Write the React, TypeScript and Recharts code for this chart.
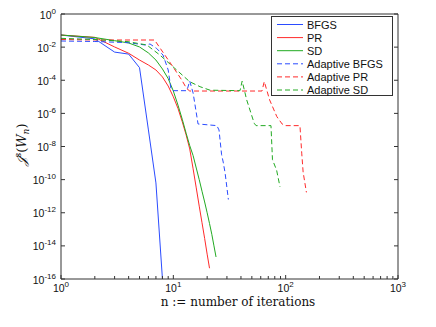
import React from 'react';
import { LineChart, Line, XAxis, YAxis } from 'recharts';

// iteration counts (n) and log10 of the objective for each method
const bfgsN = [1, 2, 3, 4, 5, 6, 7, 8];
const bfgsExp = [-1.27, -1.5, -2.3, -2.42, -3.24, -7.0, -10.2, -16];

const prN = [1, 2, 3, 4, 5, 6, 7, 8, 9, 10, 11, 12, 13, 14, 15, 16, 17, 18, 19, 20, 21];
const prExp = [-1.27, -1.41, -1.99, -2.37, -2.78, -3.08, -3.38, -3.8, -4.35, -5.0, -5.7, -6.5, -7.3, -8.15, -9.35, -10.5, -11.6, -12.6, -13.55, -14.5, -15.35];

const sdN = [1, 2, 3, 4, 5, 6, 7, 8, 9, 10, 11, 12, 13, 14, 15, 16, 17, 18, 19, 20, 21, 22, 23, 24];
const sdExp = [-1.27, -1.42, -1.61, -1.75, -1.99, -2.35, -2.78, -3.32, -3.9, -4.65, -5.5, -6.35, -7.2, -7.95, -8.55, -9.3, -10.0, -10.7, -11.35, -12.0, -12.65, -13.3, -14.0, -14.67];

const aBfgsN = [1, 2, 3.95, 5.6, 6.2, 7.1, 8.1, 9, 9.5, 9.9, 13.2, 14, 15, 16.6, 24.4, 25.5, 26.9, 27.8, 28.9, 30.9];
const aBfgsExp = [-1.63, -1.66, -1.73, -1.87, -1.81, -2.08, -2.48, -3.38, -4.47, -4.63, -4.63, -4.05, -4.77, -6.64, -6.74, -7.0, -8.5, -8.94, -9.6, -11.2];

const aPrN = [1, 2.2, 6.8, 9.9, 11.9, 13.1, 14, 61.5, 64.5, 72, 83.5, 93, 98.6, 134, 139, 143, 153];
const aPrExp = [-1.54, -1.57, -1.57, -3.18, -3.99, -4.49, -4.65, -4.65, -4.08, -5.19, -6.2, -6.64, -6.74, -6.74, -8.4, -9.54, -10.77];

const aSdN = [1, 2, 3.95, 5.8, 7.6, 10.3, 14, 17.3, 21.2, 39.2, 41, 45, 52.5, 54.5, 74, 76.3, 83, 89];
const aSdExp = [-1.47, -1.54, -1.67, -1.87, -2.48, -3.28, -4.09, -4.39, -4.6, -4.63, -4.05, -5.19, -6.6, -6.74, -6.74, -8.8, -9.42, -10.43];

const xTicks = [1, 2, 3, 4, 5, 6, 7, 8, 9, 10, 20, 30, 40, 50, 60, 70, 80, 90, 100, 200, 300, 400, 500, 600, 700, 800, 900, 1000];
const yTicks = [1e-16, 1e-14, 1e-12, 1e-10, 1e-8, 1e-6, 1e-4, 1e-2, 1];

const BLUE = '#2b4cff';
const RED = '#ff2a2a';
const GREEN = '#22aa22';
const AXIS = '#333';
const FONT = '"Liberation Sans", Arial, sans-serif';
const SERIF = '"DejaVu Serif", serif';

const toRows = (ns: number[], exps: number[]) => ns.map((n, i) => ({ n, v: Math.pow(10, exps[i]) }));

const series = [
  { name: 'BFGS', color: BLUE, dash: undefined, data: toRows(bfgsN, bfgsExp) },
  { name: 'PR', color: RED, dash: undefined, data: toRows(prN, prExp) },
  { name: 'SD', color: GREEN, dash: undefined, data: toRows(sdN, sdExp) },
  { name: 'Adaptive BFGS', color: BLUE, dash: '5 3', data: toRows(aBfgsN, aBfgsExp) },
  { name: 'Adaptive PR', color: RED, dash: '5 3', data: toRows(aPrN, aPrExp) },
  { name: 'Adaptive SD', color: GREEN, dash: '5 3', data: toRows(aSdN, aSdExp) },
];

const isMajor = (v: number) => {
  const l = Math.log10(v);
  return Math.abs(l - Math.round(l)) < 1e-6;
};

const Pow = ({ e }: { e: number }) => (
  <>
    10<tspan dy={-5} fontSize={8}>{e}</tspan>
  </>
);

// tickSize/tickMargin are 0, so x/y below sit right on the axis line
const BottomTick = (props: any) => {
  const { x, y, payload } = props;
  const major = isMajor(payload.value);
  return (
    <g>
      <line x1={x} y1={y} x2={x} y2={y - (major ? 4 : 3)} stroke={AXIS} />
      {major && (
        <text x={x} y={y + 12.5} textAnchor="middle" fontSize={10.5} fontFamily={FONT} fill="#111">
          <Pow e={Math.round(Math.log10(payload.value))} />
        </text>
      )}
    </g>
  );
};

const TopTick = (props: any) => {
  const { x, y, payload } = props;
  const major = isMajor(payload.value);
  return <line x1={x} y1={y} x2={x} y2={y + (major ? 4 : 3)} stroke={AXIS} />;
};

const LeftTick = (props: any) => {
  const { x, y, payload } = props;
  return (
    <g>
      <line x1={x} y1={y} x2={x + 4} y2={y} stroke={AXIS} />
      <text x={x - 5} y={y + 4.5} textAnchor="end" fontSize={10.5} fontFamily={FONT} fill="#111">
        <Pow e={Math.round(Math.log10(payload.value))} />
      </text>
    </g>
  );
};

const RightTick = (props: any) => {
  const { x, y } = props;
  return <line x1={x} y1={y} x2={x - 4} y2={y} stroke={AXIS} />;
};

export default function App() {
  return (
    <div style={{ position: 'absolute', left: 0, top: 0, width: 436, height: 327, background: '#fff' }}>
      <LineChart width={436} height={327} margin={{ top: 13, right: 37, bottom: 47, left: 60 }}>
        <XAxis
          dataKey="n"
          type="number"
          scale="log"
          domain={[1, 1000]}
          ticks={xTicks}
          interval={0}
          allowDataOverflow
          height={1}
          tickSize={0}
          tickMargin={0}
          tick={<BottomTick />}
          stroke={AXIS}
        />
        <XAxis
          xAxisId="top"
          orientation="top"
          type="number"
          scale="log"
          domain={[1, 1000]}
          ticks={xTicks}
          interval={0}
          allowDataOverflow
          height={1}
          tickSize={0}
          tickMargin={0}
          tick={<TopTick />}
          stroke={AXIS}
        />
        <YAxis
          type="number"
          scale="log"
          domain={[1e-16, 1]}
          ticks={yTicks}
          interval={0}
          allowDataOverflow
          width={1}
          tickSize={0}
          tickMargin={0}
          tick={<LeftTick />}
          stroke={AXIS}
        />
        <YAxis
          yAxisId="right"
          orientation="right"
          type="number"
          scale="log"
          domain={[1e-16, 1]}
          ticks={yTicks}
          interval={0}
          allowDataOverflow
          width={1}
          tickSize={0}
          tickMargin={0}
          tick={<RightTick />}
          stroke={AXIS}
        />
        {series.map((s) => (
          <Line
            key={s.name}
            data={s.data}
            dataKey="v"
            name={s.name}
            type="linear"
            stroke={s.color}
            strokeWidth={1}
            strokeDasharray={s.dash}
            dot={false}
            isAnimationActive={false}
          />
        ))}
      </LineChart>

      {/* legend */}
      <div
        style={{
          position: 'absolute',
          left: 271,
          top: 16,
          width: 122,
          height: 80,
          border: `1px solid ${AXIS}`,
          background: '#fff',
          boxSizing: 'border-box',
        }}
      >
        <svg width={122} height={80} style={{ display: 'block' }}>
          {series.map((s, i) => {
            const cy = 7.5 + i * 13.1;
            return (
              <g key={s.name}>
                <line x1={5} y1={cy} x2={31} y2={cy} stroke={s.color} strokeWidth={1} strokeDasharray={s.dash} />
                <text x={35} y={cy + 4} fontSize={11} fontFamily={FONT} fill="#111">
                  {s.name}
                </text>
              </g>
            );
          })}
        </svg>
      </div>

      {/* axis titles */}
      <svg
        width={436}
        height={327}
        style={{ position: 'absolute', left: 0, top: 0, pointerEvents: 'none' }}
      >
        <text x={238} y={306} textAnchor="middle" fontFamily={SERIF} fontSize={12} fill="#111">
          n := number of iterations
        </text>
        <text
          x={22}
          y={149}
          transform="rotate(-90 22 145)"
          textAnchor="middle"
          fontFamily={SERIF}
          fontSize={13}
          fill="#111"
        >
          <tspan fontStyle="italic">𝒥</tspan>
          <tspan dy={-5} fontSize={9}>s</tspan>
          <tspan dy={5}>(</tspan>
          <tspan fontStyle="italic">W</tspan>
          <tspan dy={3} fontSize={9} fontStyle="italic">n</tspan>
          <tspan dy={-3}>)</tspan>
        </text>
      </svg>
    </div>
  );
}
